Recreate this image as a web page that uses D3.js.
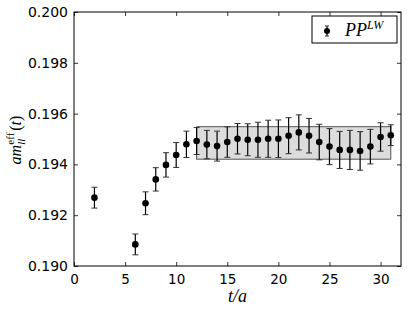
<!DOCTYPE html>
<html>
<head>
<meta charset="utf-8">
<script src="https://cdn.jsdelivr.net/npm/d3@7"></script>
<style>
  body { margin: 0; background: #fff; }
  svg { display: block; }
  .tick text { font-family: "DejaVu Sans", sans-serif; font-size: 14px; fill: #000; }
</style>
</head>
<body>
<svg id="chart" width="407" height="310"></svg>
<script>
// time slices, effective mass and errors
var tVals = [2, 6, 7, 8, 9, 10, 11, 12, 13, 14, 15, 16, 17, 18, 19, 20, 21, 22, 23, 24, 25, 26, 27, 28, 29, 30, 31];
var mEff = [0.19269, 0.19085, 0.19247, 0.19341, 0.19398, 0.19437, 0.19479, 0.19492, 0.19478, 0.19472,
  0.19488, 0.19501, 0.19497, 0.19497, 0.19501, 0.19501, 0.19513, 0.19526, 0.19513, 0.19488,
  0.19470, 0.19457, 0.19457, 0.19453, 0.19470, 0.19508, 0.19515];
var mErr = [0.00041, 0.00041, 0.00045, 0.00046, 0.00048, 0.00049, 0.00052, 0.00053, 0.00056, 0.00059,
  0.00060, 0.00060, 0.00063, 0.00069, 0.00073, 0.00074, 0.00071, 0.00069, 0.00068, 0.00070,
  0.00071, 0.00073, 0.00077, 0.00076, 0.00068, 0.00056, 0.00041];
// fit band
var fitRange = [12, 31];
var fitValue = 0.194845;
var fitErr = 0.00064;
var xTicks = [0, 5, 10, 15, 20, 25, 30];
var yTicks = [0.190, 0.192, 0.194, 0.196, 0.198, 0.200];

var svg = d3.select("#chart");
var mLeft = 74, mRight = 401, mTop = 12, mBottom = 266;

var x = d3.scaleLinear().domain([0, 32]).range([mLeft, mRight]);
var y = d3.scaleLinear().domain([0.190, 0.200]).range([mBottom, mTop]);

var pts = tVals.map(function (t, i) { return { t: t, m: mEff[i], e: mErr[i] }; });

// fit band
svg.append("rect")
  .attr("x", x(fitRange[0]))
  .attr("y", y(fitValue + fitErr))
  .attr("width", x(fitRange[1]) - x(fitRange[0]))
  .attr("height", y(fitValue - fitErr) - y(fitValue + fitErr))
  .style("fill", "#dcdcdc")
  .style("stroke", "#555")
  .style("stroke-width", 1);

// error bars
var eb = svg.selectAll(".eb").data(pts).enter().append("g").attr("class", "eb");
eb.append("line")
  .attr("x1", function (d) { return x(d.t); })
  .attr("x2", function (d) { return x(d.t); })
  .attr("y1", function (d) { return y(d.m - d.e); })
  .attr("y2", function (d) { return y(d.m + d.e); })
  .style("stroke", "#000").style("stroke-width", 1.2);
[-1, 1].forEach(function (s) {
  eb.append("line")
    .attr("x1", function (d) { return x(d.t) - 3; })
    .attr("x2", function (d) { return x(d.t) + 3; })
    .attr("y1", function (d) { return y(d.m + s * d.e); })
    .attr("y2", function (d) { return y(d.m + s * d.e); })
    .style("stroke", "#333").style("stroke-width", 1);
});
svg.selectAll(".pt").data(pts).enter().append("circle")
  .attr("class", "pt")
  .attr("cx", function (d) { return x(d.t); })
  .attr("cy", function (d) { return y(d.m); })
  .attr("r", 3.3)
  .style("fill", "#000");

// axes, ticks inside on all sides
function styleAxis(g) {
  g.select(".domain").remove();
  g.selectAll(".tick line").style("stroke", "#000").style("stroke-width", 0.8);
}
svg.append("g").attr("transform", "translate(0," + mBottom + ")")
  .call(d3.axisBottom(x).tickValues(xTicks).tickSizeInner(-4).tickSizeOuter(0).tickPadding(8).tickFormat(d3.format("d")))
  .call(styleAxis)
  .selectAll("text").style("font-size", "13.5px");
svg.append("g").attr("transform", "translate(0," + mTop + ")")
  .call(d3.axisTop(x).tickValues(xTicks).tickSizeInner(-4).tickSizeOuter(0).tickFormat(""))
  .call(styleAxis);
svg.append("g").attr("transform", "translate(" + mLeft + ",0)")
  .call(d3.axisLeft(y).tickValues(yTicks).tickSizeInner(-4).tickSizeOuter(0).tickPadding(6).tickFormat(d3.format(".3f")))
  .call(styleAxis);
svg.append("g").attr("transform", "translate(" + mRight + ",0)")
  .call(d3.axisRight(y).tickValues(yTicks).tickSizeInner(-4).tickSizeOuter(0).tickFormat(""))
  .call(styleAxis);

// frame
svg.append("rect")
  .attr("x", mLeft).attr("y", mTop)
  .attr("width", mRight - mLeft).attr("height", mBottom - mTop)
  .style("fill", "none").style("stroke", "#000").style("stroke-width", 1);

// axis labels
svg.append("text")
  .attr("x", (mLeft + mRight) / 2).attr("y", 302)
  .attr("text-anchor", "middle")
  .style("font-family", "Liberation Serif, serif").style("font-size", "18px").style("font-style", "italic")
  .text("t/a");

var yl = svg.append("text")
  .attr("transform", "translate(21," + ((mTop + mBottom) / 2 + 1) + ") rotate(-90)")
  .attr("text-anchor", "middle")
  .style("font-family", "Liberation Serif, serif").style("font-size", "16px");
yl.append("tspan").style("font-style", "italic").text("am");
yl.append("tspan").attr("dy", 4).style("font-size", "11px").style("font-style", "italic").text("ll");
yl.append("tspan").attr("dx", -6).attr("dy", -11).style("font-size", "11px").text("eff");
yl.append("tspan").attr("dx", 2).attr("dy", 7).text("(");
yl.append("tspan").style("font-style", "italic").text("t");
yl.append("tspan").text(")");

// legend
var lg = svg.append("g");
lg.append("rect")
  .attr("x", 312).attr("y", 16).attr("width", 85).attr("height", 27)
  .style("fill", "#fff").style("stroke", "#000").style("stroke-width", 1);
lg.append("line").attr("x1", 327).attr("x2", 327).attr("y1", 26).attr("y2", 36)
  .style("stroke", "#000").style("stroke-width", 1.2);
[26, 36].forEach(function (yy) {
  lg.append("line").attr("x1", 325).attr("x2", 329).attr("y1", yy).attr("y2", yy).style("stroke", "#333");
});
lg.append("circle").attr("cx", 327).attr("cy", 31).attr("r", 3).style("fill", "#000");
var lt = lg.append("text").attr("x", 345).attr("y", 36)
  .style("font-family", "Liberation Serif, serif").style("font-size", "18px").style("font-style", "italic");
lt.append("tspan").text("PP");
lt.append("tspan").attr("dy", -7).style("font-size", "12px").text("LW");
</script>
</body>
</html>
